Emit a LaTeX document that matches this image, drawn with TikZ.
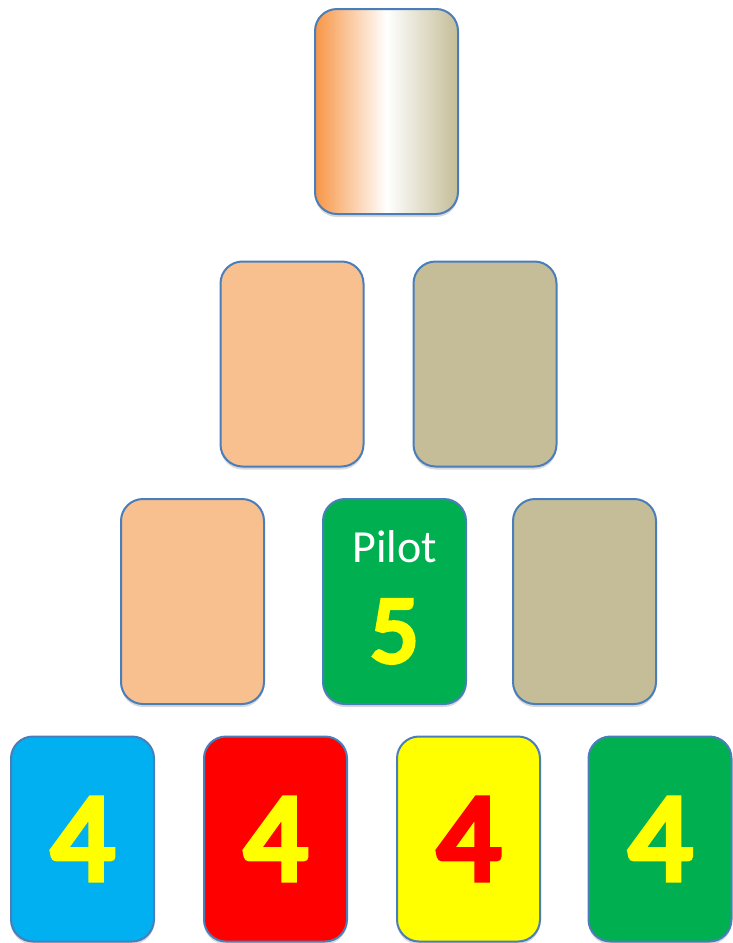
\documentclass[tikz,border=0pt]{standalone}
\usepackage{fontspec}
\setmainfont{Carlito}
\newfontfamily\cardnumfont{Carlito}[FakeBold=5]
\usetikzlibrary{shadows}
\definecolor{cardedge}{HTML}{4A7EBB}
\definecolor{cardpeach}{HTML}{F9C08F}
\definecolor{cardtan}{HTML}{C4BD97}
\definecolor{cardorange}{HTML}{F79646}
\definecolor{cardgreen}{HTML}{00B050}
\definecolor{cardblue}{HTML}{00B0F0}
\definecolor{cardred}{HTML}{FF0000}
\definecolor{cardyellow}{HTML}{FFFF00}

\begin{document}
\begin{tikzpicture}[x=1pt, y=-1pt,
    card/.style={draw=cardedge, line width=2pt, rounded corners=22pt,
      minimum width=143pt, minimum height=205pt, inner sep=0pt,
      drop shadow={shadow xshift=0pt, shadow yshift=-3pt, opacity=0.3}},
    bignum/.style={font=\cardnumfont\fontsize{126}{126}\selectfont, inner sep=0pt}]
  \useasboundingbox (0,0) rectangle (732,943);

  % top card
  \node[card, left color=cardorange, right color=cardtan, middle color=white] (top) at (386.5,111.5) {};

  % second row
  \node[card, fill=cardpeach] (midl) at (292,364) {};
  \node[card, fill=cardtan] (midr) at (485,364) {};

  % third row
  \node[card, fill=cardpeach] (lowl) at (192.5,601.5) {};
  \node[card, fill=cardgreen] (pilot) at (394.5,601.5) {};
  \node[card, fill=cardtan] (lowr) at (584.5,601.5) {};
  \node[white, font=\fontsize{46}{46}\selectfont] (pilotname) at (394.5,547) {Pilot};
  \node[cardyellow, font=\cardnumfont\fontsize{96}{96}\selectfont, inner sep=0pt] (pilotnum) at (394.5,631.5) {5};

  % bottom row
  \foreach \x/\fc/\tc/\nm in {82.5/cardblue/cardyellow/b1, 275.5/cardred/cardyellow/b2,
      468.5/cardyellow/cardred/b3, 660/cardgreen/cardyellow/b4}{
    \node[card, fill=\fc] (\nm) at (\x,839) {};
    \node[bignum, text=\tc] (\nm num) at (\nm.center) {4};
  }
\end{tikzpicture}
\end{document}
